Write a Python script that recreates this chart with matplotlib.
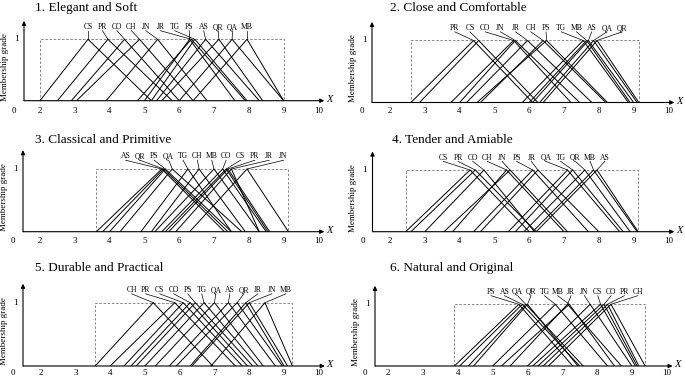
import matplotlib
matplotlib.use("Agg")
import matplotlib.pyplot as plt
import numpy as np

plt.rcParams['font.family'] = ['Liberation Serif', 'DejaVu Serif']

W, H = 685, 379

# ---------------- data ----------------
titles = ["1. Elegant and Soft", "2. Close and Comfortable", "3. Classical and Primitive",
          "4. Tender and Amiable", "5. Durable and Practical", "6. Natural and Original"]

labels1 = ["CS", "PR", "CO", "CH", "JN", "JR", "TG", "PS", "AS", "QR", "QA", "MB"]
left1   = [2.0, 2.5, 2.9, 3.05, 3.9, 4.8, 5.2, 5.0, 5.35, 5.5, 6.0, 6.4]
peak1   = [3.38, 3.95, 4.43, 4.86, 5.38, 6.35, 6.45, 6.3, 6.76, 7.14, 7.52, 7.95]
right1  = [5.2, 5.8, 6.0, 6.4, 6.8, 7.9, 7.95, 7.6, 8.3, 8.4, 9.0, 9.0]

labels2 = ["PR", "CS", "CO", "JN", "JR", "CH", "PS", "TG", "MB", "AS", "QA", "QR"]
left2   = [2.6, 2.85, 3.75, 4.0, 4.2, 4.6, 4.5, 5.8, 6.0, 6.1, 6.3, 6.4]
peak2   = [4.4, 4.55, 5.55, 5.6, 5.95, 6.4, 6.5, 7.55, 7.65, 7.7, 7.85, 7.95]
right2  = [6.1, 6.25, 7.2, 7.45, 7.8, 8.2, 8.25, 8.85, 8.9, 9.0, 9.1, 9.15]

labels3 = ["AS", "QR", "PS", "QA", "TG", "CH", "MB", "CO", "CS", "PR", "JR", "JN"]
left3   = [3.62, 3.8, 4.0, 4.3, 4.9, 5.2, 5.3, 5.5, 5.6, 5.7, 5.9, 6.3]
peak3   = [5.5, 5.55, 5.6, 5.8, 6.25, 6.57, 7.0, 7.25, 7.35, 7.4, 7.5, 7.95]
right3  = [7.3, 7.4, 7.5, 7.8, 7.5, 7.9, 8.3, 8.5, 8.55, 8.6, 8.3, 9.14]

labels4 = ["CS", "PR", "CO", "CH", "JN", "PS", "JR", "QA", "TG", "QR", "MB", "AS"]
left4   = [2.45, 2.6, 3.0, 3.8, 3.55, 4.4, 4.6, 5.4, 5.6, 5.85, 6.1, 6.2]
peak4   = [4.3, 4.45, 4.7, 5.35, 5.45, 6.1, 6.25, 7.1, 7.25, 7.6, 7.85, 7.95]
right4  = [6.0, 6.2, 6.15, 7.0, 7.1, 7.7, 8.0, 8.6, 8.7, 8.9, 9.1, 9.13]

labels5 = ["CH", "PR", "CS", "CO", "PS", "TG", "QA", "AS", "QR", "JR", "JN", "MB"]
left5   = [3.57, 4.0, 4.4, 4.6, 4.75, 5.0, 5.3, 5.7, 5.9, 6.3, 6.35, 6.9]
peak5   = [5.24, 5.86, 6.1, 6.3, 6.45, 6.7, 7.0, 7.4, 7.65, 7.9, 8.0, 8.45]
right5  = [6.95, 7.6, 7.8, 7.95, 8.1, 8.25, 8.4, 8.75, 8.95, 9.0, 9.1, 9.24]

labels6 = ["PS", "AS", "QA", "QR", "TG", "MB", "JR", "JN", "CS", "CO", "PR", "CH"]
left6   = [3.9, 4.05, 4.3, 4.45, 5.0, 5.25, 5.5, 6.0, 6.15, 6.3, 6.45, 6.6]
peak6   = [5.75, 5.85, 5.95, 6.0, 6.8, 7.2, 7.15, 7.8, 8.1, 8.2, 8.3, 8.4]
right6  = [7.3, 7.5, 7.6, 7.45, 8.3, 8.5, 8.7, 9.0, 9.1, 9.15, 9.2, 9.38]

xticks = [2, 3, 4, 5, 6, 7, 8, 9, 10]

panels = [
    (labels1, left1, peak1, right1),
    (labels2, left2, peak2, right2),
    (labels3, left3, peak3, right3),
    (labels4, left4, peak4, right4),
    (labels5, left5, peak5, right5),
    (labels6, left6, peak6, right6),
]

# ---------------- layout (pixels) ----------------
geom = [
    dict(yax=24, x2=40.0, base=100.7, one=39.3, tx=35, ty=8, lab=(3.38, 7.95), tk=10.0),
    dict(yax=372, x2=390.0, base=102.5, one=40.5, tx=390, ty=8, lab=(3.86, 8.67), tk=8.5),
    dict(yax=23, x2=40.0, base=231.7, one=169.0, tx=35, ty=140, lab=(4.46, 9.0), tk=9.5),
    dict(yax=372.5, x2=390.0, base=231.7, one=170.0, tx=392, ty=140, lab=(3.53, 8.17), tk=9.5),
    dict(yax=23, x2=40.5, base=366.0, one=302.7, tx=35, ty=268, lab=(4.62, 9.05), tk=7.0),
    dict(yax=375, x2=388.3, base=366.0, one=304.3, tx=390, ty=268, lab=(4.95, 9.17), tk=7.0),
]

unit = 34.8
fig = plt.figure(figsize=(W / 100, H / 100), dpi=100)

for (labs, a_, b_, c_), title, g in zip(panels, titles, geom):
    x0 = 2 - (g['x2'] - g['yax']) / unit
    x1 = 10.6
    ppu_y = g['base'] - g['one']
    ytop = 1.32
    left_px = g['yax']
    right_px = g['x2'] + (x1 - 2) * unit
    bottom_px = g['base']
    top_px = g['base'] - ytop * ppu_y
    ax = fig.add_axes([left_px / W, 1 - bottom_px / H,
                       (right_px - left_px) / W, (bottom_px - top_px) / H])
    ax.set_xlim(x0, x1)
    ax.set_ylim(0, ytop)
    ax.axis('off')

    # axes arrows
    ax.annotate('', xy=(10.17, 0), xytext=(x0, 0),
                arrowprops=dict(arrowstyle='-|>', lw=0.8, color='black',
                                mutation_scale=6, shrinkA=0, shrinkB=0),
                annotation_clip=False)
    ax.annotate('', xy=(x0, 1.3), xytext=(x0, 0),
                arrowprops=dict(arrowstyle='-|>', lw=0.8, color='black',
                                mutation_scale=6, shrinkA=0, shrinkB=0),
                annotation_clip=False)
    ax.text(10.31, 0.02, 'X', style='italic', fontsize=7.5, ha='center', va='center')

    ty = -g['tk'] / ppu_y
    for t in xticks:
        ax.text(t, ty, str(t), fontsize=6.5, ha='center', va='center', clip_on=False)
    ax.text(x0 - 0.28, ty, '0', fontsize=6.5, ha='center', va='center', clip_on=False)
    ax.text(x0 - 0.16, 1.0, '1', fontsize=6.5, ha='right', va='center')

    ax.text(x0 - 0.55, 0.55, 'Membership grade', rotation=90, fontsize=6.5,
            ha='center', va='center', clip_on=False)

    # dashed support rectangle
    lo, hi = min(a_), max(c_)
    ax.plot([lo, lo, hi, hi], [0, 1, 1, 0], ls=(0, (2.5, 1.8)), color='#888888', lw=0.7)

    # triangles
    for a, b, c in zip(a_, b_, c_):
        ax.plot([a, b, c], [0, 1, 0], color='black', lw=0.7)

    # labels and leader lines
    lx = np.linspace(g['lab'][0], g['lab'][1], len(labs))
    for name, x, b in zip(labs, lx, b_):
        ax.text(x, 1.2, name, fontsize=5.5, ha='center', va='center')
        ax.plot([x, b], [1.14, 1.0], color='black', lw=0.5)

    fig.text(g['tx'] / W, 1 - g['ty'] / H, title, fontsize=9.5, ha='left', va='center')

fig.savefig('out.png', dpi=100)
